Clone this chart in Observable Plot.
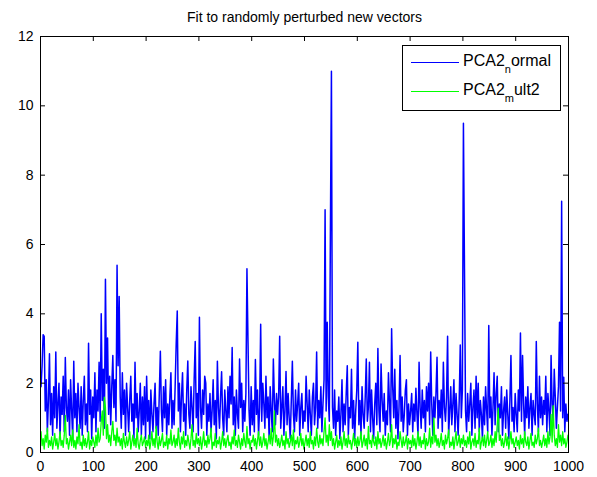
<!DOCTYPE html>
<html><head><meta charset="utf-8">
<script src="https://cdn.jsdelivr.net/npm/d3@7"></script>
<script src="https://cdn.jsdelivr.net/npm/@observablehq/plot@0.6"></script>
<style>html,body{margin:0;padding:0;background:#fff}</style>
</head><body><div id="chart"></div>
<script>
const title = "Fit to randomly perturbed new vectors";
// legend labels: [base, subscript, rest] (MATLAB TeX "_" interpretation)
const seriesNames = [["PCA2", "n", "ormal"], ["PCA2", "m", "ult2"]];
const seriesColors = ["#0000ff", "#00ff00"];
const xTicks = [0, 100, 200, 300, 400, 500, 600, 700, 800, 900, 1000];
const yTicks = [0, 2, 4, 6, 8, 10, 12];

// PCA2_normal, sampled every 2nd index (1, 3, 5, ... 999)
const pcaNormal = [
1.9,2.5,3.4,3.35,1.2,2.1,0.6,1.5,2.85,0.8,1.7,0.5,1.9,1.0,2.9,0.7,1.4,2.0,0.4,1.6,1.1,2.2,0.6,2.74,1.3,
0.9,1.8,0.5,2.1,1.2,0.4,2.63,1.0,1.7,0.6,2.0,1.3,0.7,1.9,0.5,1.5,2.2,0.8,1.4,0.6,3.15,1.1,1.8,0.4,1.6,
1.0,2.3,0.6,1.8,1.2,2.6,0.9,4.0,1.5,2.4,0.7,5.0,2.0,3.3,1.1,2.2,0.8,1.9,2.8,1.3,2.1,0.9,5.4,2.5,4.5,
1.6,0.7,2.3,1.1,1.8,0.5,2.0,1.3,0.6,1.5,2.2,0.9,1.4,0.4,2.6,1.0,1.7,0.6,1.2,2.0,0.5,1.6,0.8,1.9,0.4,
2.2,0.9,1.5,0.4,1.8,1.1,0.6,1.4,2.0,0.7,1.3,0.5,1.7,2.92,1.2,0.6,1.9,1.0,2.1,0.5,1.4,0.8,1.6,2.3,0.7,
1.5,0.8,1.9,3.14,4.08,1.2,2.0,0.6,1.6,2.3,0.9,1.4,0.5,1.8,2.64,1.1,0.7,1.9,1.3,0.6,2.1,3.2,1.0,1.7,0.5,
3.9,1.3,0.7,1.8,1.1,2.2,2.0,0.5,1.4,0.9,1.7,0.6,1.2,2.1,0.8,1.5,0.4,2.63,1.3,0.7,1.6,2.33,1.0,0.5,1.8,
1.2,0.6,1.9,1.0,2.2,1.4,3.03,0.8,1.6,0.5,1.8,1.1,0.7,2.7,1.3,2.0,0.6,1.5,0.9,1.7,5.3,3.2,1.2,0.5,1.9,
0.8,1.5,0.6,2.68,1.1,1.8,0.5,1.3,3.7,0.9,2.0,1.4,0.7,2.2,1.0,1.6,0.4,1.9,1.2,0.6,2.7,1.5,0.8,1.7,1.1,
1.6,3.35,0.7,1.3,1.9,0.5,1.2,2.34,0.8,1.7,1.0,0.4,1.5,2.63,1.1,0.6,1.8,0.9,1.4,2.0,0.5,1.3,1.7,0.7,1.2,
0.9,2.2,1.4,0.6,1.8,1.1,0.5,1.6,2.0,0.8,1.3,2.9,0.7,1.5,1.0,1.9,0.6,1.4,2.1,7.0,1.2,3.76,1.6,0.9,6.2,
11.0,1.3,0.7,1.8,0.5,1.2,0.9,1.6,0.4,1.1,2.1,0.6,1.4,0.8,1.7,2.5,0.5,1.3,1.0,2.4,0.7,1.5,0.4,1.2,1.8,
3.18,0.8,1.5,0.5,1.9,1.1,0.7,1.6,2.7,0.9,1.3,2.6,0.6,1.8,1.0,0.4,1.4,2.0,0.8,3.0,1.2,0.6,2.55,1.5,0.9,
1.7,0.5,1.2,0.8,2.3,1.4,0.6,3.57,1.9,1.0,2.4,0.7,1.5,0.4,1.3,2.8,0.9,1.6,0.6,1.1,1.8,2.1,0.5,1.4,0.8,
1.2,1.7,0.6,1.4,0.9,1.85,1.1,0.5,2.6,1.3,0.7,1.8,1.0,1.5,0.6,1.9,1.2,2.0,0.8,2.9,1.4,0.5,1.6,1.0,1.7,
2.75,0.7,1.5,1.0,1.8,0.6,2.6,1.3,0.9,1.6,3.35,0.5,1.2,1.9,0.8,1.4,2.1,0.6,1.7,1.1,0.5,1.5,3.1,1.0,1.8,
9.5,5.3,1.2,0.6,1.7,0.9,1.4,2.0,0.5,1.3,1.8,0.7,2.2,1.0,2.0,0.6,1.5,1.1,0.4,1.6,0.8,1.9,1.2,0.6,3.66,
1.0,1.6,0.5,1.3,2.3,0.8,1.7,2.2,0.6,1.4,1.0,1.9,0.5,1.2,1.6,0.7,1.8,1.1,0.4,1.5,2.8,0.9,1.3,0.6,1.7,
1.1,0.6,1.8,1.2,3.45,0.9,2.8,1.4,0.5,1.6,1.0,1.9,0.7,1.3,1.7,0.5,1.5,1.1,0.8,3.2,1.4,0.6,2.2,1.0,1.6,
0.8,1.5,1.1,2.2,0.6,1.7,1.2,0.5,2.8,1.4,0.9,2.4,1.6,0.7,1.3,1.9,3.76,1.2,7.25,1.0,2.17,0.6,1.4,0.9,1.1
];

// PCA2_mult2, same sample positions
const pcaMult2 = [
0.6,0.2,0.4,0.1,0.5,0.3,0.7,0.15,0.35,0.2,0.45,0.1,0.3,0.55,0.2,0.4,0.1,0.3,0.6,0.2,0.35,0.15,0.5,1.07,0.25,
0.4,0.1,0.3,0.5,0.2,0.65,0.15,0.35,0.1,0.45,0.25,0.8,0.2,0.3,0.1,0.5,0.2,0.4,0.15,0.3,0.6,0.1,0.35,0.2,0.45,
0.3,0.15,0.5,0.2,0.7,0.3,0.4,0.9,1.2,0.5,1.6,1.3,0.4,0.8,0.3,0.5,0.2,0.6,0.9,0.35,0.5,0.2,0.7,0.3,0.45,
0.2,0.4,0.1,0.55,0.3,0.15,0.45,0.2,0.35,0.6,0.1,0.3,0.5,0.2,0.4,0.15,0.7,0.25,0.1,0.35,0.5,0.2,0.3,0.45,0.15,
0.35,0.2,0.5,0.1,0.3,0.6,0.2,0.4,0.15,0.75,0.3,0.1,0.45,0.2,0.35,0.55,0.15,0.3,0.2,0.5,0.1,0.4,0.25,0.65,0.2,
0.3,0.5,0.15,0.4,0.2,0.7,0.3,0.1,0.45,0.25,0.6,0.15,0.35,0.2,0.5,0.3,0.1,0.4,0.8,0.2,0.35,0.15,0.55,0.25,0.4,
0.2,0.45,0.1,0.3,0.6,0.2,0.35,0.15,0.5,0.25,0.4,0.7,0.1,0.3,0.2,0.55,0.15,0.35,0.25,0.45,0.1,0.3,0.6,0.2,0.4,
0.15,0.35,0.5,0.2,0.3,0.1,0.45,0.25,0.65,0.2,0.35,0.15,0.5,0.3,0.1,0.4,0.2,0.55,0.3,0.15,0.75,0.25,0.4,0.1,0.35,
0.3,0.5,0.2,0.4,0.1,0.35,0.6,0.2,0.45,0.15,0.3,0.55,0.2,0.4,0.1,0.3,0.5,0.25,0.7,0.2,0.45,1.2,0.3,0.5,0.2,
0.4,0.15,0.3,0.5,0.2,0.35,0.1,0.6,0.25,0.4,0.15,0.3,0.5,0.2,0.65,0.1,0.35,0.25,0.45,0.15,0.3,0.55,0.2,0.4,0.1,
0.3,0.5,0.2,0.4,0.15,0.6,0.25,0.35,0.1,0.45,0.2,0.7,0.3,0.15,0.5,0.25,0.4,0.2,0.6,1.0,0.3,0.5,0.2,0.8,0.35,
0.6,0.2,0.4,0.1,0.3,0.5,0.15,0.35,0.2,0.45,0.1,0.3,0.6,0.2,0.4,0.15,0.5,0.25,0.35,0.1,0.3,0.55,0.2,0.4,0.15,
0.45,0.2,0.35,0.6,0.15,0.3,0.5,0.2,0.4,0.1,0.75,0.25,0.35,0.15,0.5,0.3,0.2,0.45,0.1,0.6,0.25,0.4,0.15,0.3,0.5,
0.2,0.4,0.1,0.3,0.55,0.2,0.35,0.8,0.15,0.4,0.25,0.5,0.1,0.3,0.2,0.6,0.35,0.15,0.45,0.2,0.3,0.5,0.1,0.4,0.25,
0.35,0.15,0.5,0.2,0.4,0.1,0.3,0.6,0.2,0.45,0.15,0.35,0.25,0.55,0.1,0.4,0.2,0.3,0.7,0.15,0.45,0.25,1.0,0.3,0.5,
0.2,0.4,0.15,0.3,0.55,0.2,0.35,0.1,0.5,0.25,0.4,0.65,0.15,0.3,0.2,0.45,0.1,0.35,0.6,0.2,0.3,0.5,0.15,0.4,0.25,
0.5,0.2,0.35,0.15,0.45,0.25,0.6,0.1,0.3,0.4,0.2,0.55,0.15,0.35,0.25,0.7,0.1,0.3,0.45,0.2,0.5,0.15,0.35,0.6,0.2,
0.3,0.5,0.15,0.4,0.2,0.6,0.3,0.8,1.28,0.35,0.5,0.2,0.4,0.15,0.3,0.55,0.2,0.45,0.1,0.35,0.6,0.25,0.4,0.15,0.3,
0.45,0.2,0.35,0.1,0.5,0.25,0.4,0.15,0.6,0.3,0.2,0.45,0.1,0.35,0.55,0.2,0.3,0.15,0.5,0.25,0.4,0.7,0.2,0.35,0.15,
0.3,0.5,0.2,0.4,0.15,0.6,0.25,0.45,1.1,0.3,1.35,0.5,0.2,0.4,0.15,0.8,0.3,0.5,0.2,0.6,0.25,0.4,0.15,0.3,0.5
];

const table = [];
pcaNormal.forEach((v, i) => table.push({x: 1 + 2 * i, y: v, s: 0}));
pcaMult2.forEach((v, i) => table.push({x: 1 + 2 * i, y: v, s: 1}));

const FONT = "'Liberation Sans', Arial, sans-serif";
const W = 597, H = 477, MT = 36, MB = 25, ML = 40, MR = 29;
const TICK = 5;
const plotW = W - ML - MR, plotH = H - MT - MB;

function legend(index, scales, values, dims) {
  const g = d3.create("svg:g").attr("font-family", FONT).attr("text-anchor", "start");
  const w = 158, h = 65;
  const right = dims.width - dims.marginRight - 8;
  const left = right - w;
  const top = dims.marginTop + 9;
  g.append("rect").attr("x", left + 0.5).attr("y", top + 0.5).attr("width", w).attr("height", h)
    .attr("fill", "white").attr("stroke", "black");
  seriesNames.forEach((parts, i) => {
    const cy = top + 17 + i * 29;
    g.append("line").attr("x1", left + 9).attr("x2", left + 57).attr("y1", cy + 0.5).attr("y2", cy + 0.5)
      .attr("stroke", seriesColors[i]).attr("stroke-width", 1.2);
    const t = g.append("text").attr("x", left + 61).attr("y", cy + 3.5).attr("font-size", 16).attr("fill", "black");
    t.append("tspan").text(parts[0]);
    t.append("tspan").attr("font-size", 11).attr("dy", 7).text(parts[1]);
    t.append("tspan").attr("dy", -7).text(parts[2]);
  });
  return g.node();
}

const chart = Plot.plot({
  width: W,
  height: H,
  marginLeft: ML,
  marginRight: MR,
  marginTop: MT,
  marginBottom: MB,
  style: {fontFamily: FONT, fontSize: "14px", background: "white", color: "black", overflow: "visible"},
  x: {domain: [0, 1000], label: null},
  y: {domain: [0, 12], label: null},
  marks: [
    Plot.line(table, {x: "x", y: "y", z: "s", stroke: (d) => seriesColors[d.s], strokeWidth: (d) => d.s === 0 ? 1.5 : 1.3}),
    Plot.frame({stroke: "black"}),
    // inward ticks on all four sides (MATLAB box style)
    Plot.tickX(xTicks, {x: (d) => d, insetTop: plotH - TICK, stroke: "black", strokeWidth: 1}),
    Plot.tickX(xTicks, {x: (d) => d, insetBottom: plotH - TICK, stroke: "black", strokeWidth: 1}),
    Plot.tickY(yTicks, {y: (d) => d, insetRight: plotW - TICK, stroke: "black", strokeWidth: 1}),
    Plot.tickY(yTicks, {y: (d) => d, insetLeft: plotW - TICK, stroke: "black", strokeWidth: 1}),
    Plot.axisX(xTicks, {tickSize: 0, tickPadding: 9, fontSize: 14, fill: "black", label: null, tickFormat: (d) => String(d), style: {letterSpacing: "0.4px"}}),
    Plot.axisY(yTicks, {tickSize: 0, tickPadding: 7, fontSize: 14, fill: "black", label: null, tickFormat: (d) => String(d)}),
    Plot.text([title], {frameAnchor: "top", dy: -18.5, lineAnchor: "middle", fontSize: 14, fill: "black", text: (d) => d, style: {letterSpacing: "0.75px"}}),
    legend
  ]
});
document.getElementById("chart").appendChild(chart);
</script>
</body></html>
